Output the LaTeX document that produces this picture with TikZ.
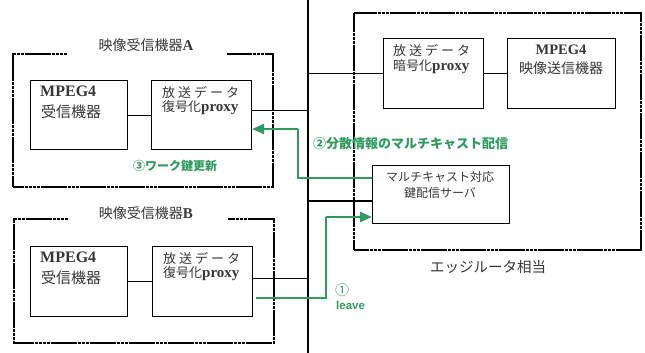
\documentclass[tikz,border=0pt]{standalone}
\usepackage{fontspec}
\setmainfont{Liberation Serif}
\newfontfamily\jp{Noto Sans CJK JP}
\newfontfamily\ls{Liberation Sans}
\usetikzlibrary{arrows.meta,calc}
\definecolor{grn}{RGB}{46,155,95}
\definecolor{txt}{RGB}{55,55,55}
\newcommand\rb[1]{{\rmfamily\bfseries #1}}
\newcommand\fs[1]{\fontsize{#1}{#1}\selectfont}
\newcommand\hoso{放\kern3pt 送\kern3pt デ\kern3pt ー\kern3pt タ}
\begin{document}
\begin{tikzpicture}[x=1pt,y=-1pt,
  box/.style={draw, line width=1.1pt, fill=white, inner sep=0, anchor=north west},
  grp/.style={line width=2.4pt, dash pattern=on 3.5pt off 0.4pt},
  wire/.style={line width=1.6pt},
  thinwire/.style={line width=1.1pt},
  gwire/.style={draw=grn, line width=1.1pt},
  garrow/.style={draw=grn, line width=2.4pt, -{Triangle[length=12pt,width=10pt]}},
  lbl/.style={inner sep=0, anchor=west, text=txt},
  clbl/.style={inner sep=0, text=txt},
  glbl/.style={inner sep=0, anchor=west, text=grn},
  ]
\useasboundingbox (0,0) rectangle (645,353);

% backbone
\coordinate (vtop) at (308,0);
\coordinate (vbot) at (308,353);
\draw[wire] (vtop) -- (vbot);

% group frames
\draw[grp] (67,54) -| (13,187) -| (273,54) -- (227,54);
\draw[grp] (68,219) -| (14,343) -| (274,219) -- (228,219);
\node[grp, draw, inner sep=0, anchor=north west, minimum width=287pt, minimum height=237pt] (edge) at (353,12) {};

% titles
\node[clbl] (atitle) at (146,45) {\jp\fs{14}映像受信機器\rb{\fs{15}A}};
\node[clbl] (btitle) at (146,213) {\jp\fs{14}映像受信機器\rb{\fs{15}B}};
\node[clbl] (edgelbl) at (488,267) {\jp\fs{14.5}エッジルータ相当};

% boxes
\node[box, minimum width=97pt, minimum height=69pt] (ampeg) at (30,80) {};
\node[box, minimum width=100pt, minimum height=69pt] (aprox) at (151,80) {};
\node[box, minimum width=97pt, minimum height=70pt] (bmpeg) at (30,246) {};
\node[box, minimum width=100pt, minimum height=70pt] (bprox) at (152,246) {};
\node[box, minimum width=100pt, minimum height=70pt] (enc) at (383,38) {};
\node[box, minimum width=108pt, minimum height=70pt] (snd) at (507,38) {};
\node[box, minimum width=137pt, minimum height=58pt] (srv) at (372,165) {};

% box texts
\node[lbl] (ampeg1) at (40,91) {\fs{16}\bfseries MPEG4};
\node[lbl] (ampeg2) at (41,112) {\jp\fs{15}受信機器};
\node[lbl] (aprox1) at (162,92) {\jp\fs{13}\hoso};
\node[lbl] (aprox2) at (162,108) {\jp\fs{13}復号化\rb{\fs{15}proxy}};
\node[lbl] (bmpeg1) at (40,257) {\fs{16}\bfseries MPEG4};
\node[lbl] (bmpeg2) at (41,278) {\jp\fs{15}受信機器};
\node[lbl] (bprox1) at (163,258) {\jp\fs{13}\hoso};
\node[lbl] (bprox2) at (163,274) {\jp\fs{13}復号化\rb{\fs{15}proxy}};
\node[lbl] (enc1) at (393,50) {\jp\fs{13}\hoso};
\node[lbl] (enc2) at (393,67) {\jp\fs{13}暗号化\rb{\fs{15}proxy}};
\node[clbl] (snd1) at (561,50) {\fs{14.5}\bfseries MPEG4};
\node[clbl] (snd2) at (561,68) {\jp\fs{14}映像送信機器};
\node[clbl] (srv1) at (440,177) {\jp\fs{12}マルチキャスト対応};
\node[clbl] (srv2) at (440,193) {\jp\fs{12}鍵配信サーバ};

% black connectors
\draw[thinwire] (ampeg.east) -- (aprox.west);
\draw[thinwire] (bmpeg.east) -- (bprox.west);
\draw[wire] ([yshift=4.5pt]aprox.east) -- ([yshift=4.5pt]aprox.east -| vtop);
\draw[wire] ([yshift=3pt]bprox.east) -- ([yshift=3pt]bprox.east -| vtop);
\draw[wire] (enc.west -| vtop) -- (enc.west);
\draw[thinwire] (enc.east) -- (snd.west);
\draw[thinwire] ([yshift=-36pt]srv.north west -| vtop) -- ([yshift=-36pt]srv.north west);

% green: server -> A
\coordinate (gA1) at ([yshift=-13pt]srv.north west);
\coordinate (gA2) at (298,178);
\coordinate (gA3) at (298,129);
\draw[gwire] (gA1) -- (gA2) -- (gA3);
\draw[garrow] (gA3) -- ([yshift=-49pt]aprox.north east);

% green: B -> server
\coordinate (gB0) at ([xshift=3pt,yshift=-52pt]bprox.north east);
\coordinate (gB1) at (326,298);
\coordinate (gB2) at (326,217);
\draw[gwire] (gB0) -- (gB1) -- (gB2);
\draw[garrow] (gB2) -- ([yshift=-52pt]srv.north west);

% green labels
\node[glbl] (l2) at (313,144) {\jp\bfseries\fs{13}②分散情報のマルチキャスト配信};
\node[glbl] (l3) at (133,166) {\jp\bfseries\fs{12}③ワーク鍵更新};
\node[glbl] (l1a) at (335,290) {\jp\fs{14}①};
\node[glbl] (l1b) at (336,305) {\ls\bfseries\fs{11.5}leave};
\end{tikzpicture}
\end{document}
